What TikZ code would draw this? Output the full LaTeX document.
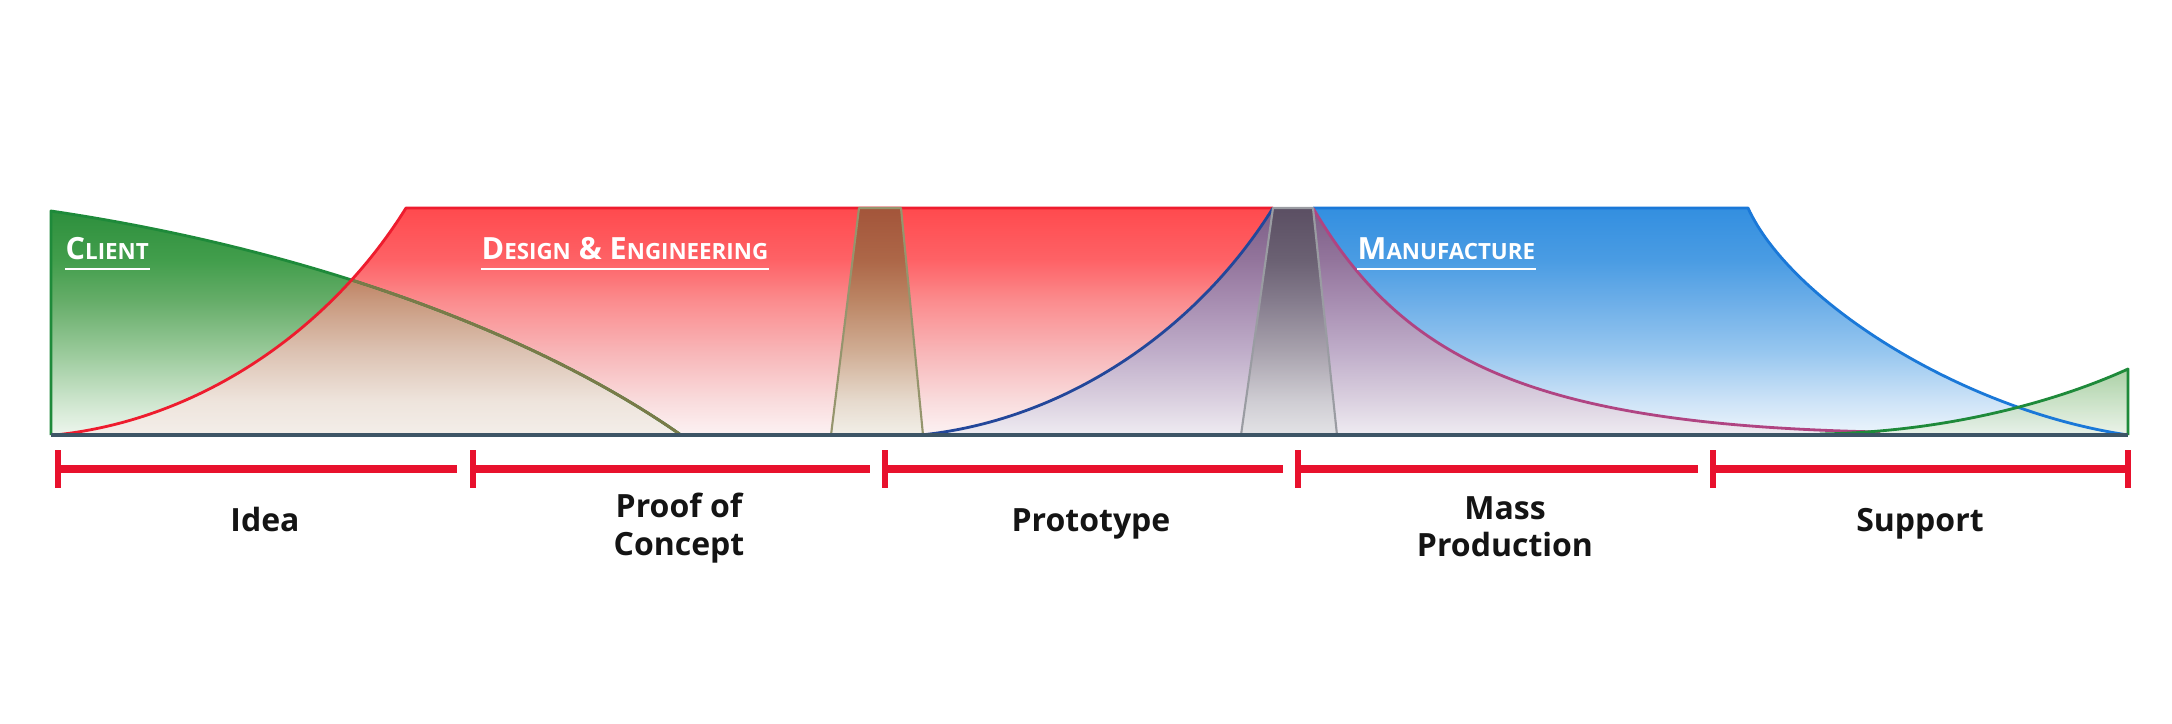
\documentclass[tikz,border=0pt]{standalone}
\usepackage{fontspec}
\setmainfont{Open Sans}
% line colours
\definecolor{greenline}{HTML}{1E8A3A}
\definecolor{redline}{HTML}{EE1C2E}
\definecolor{oliveline}{HTML}{7A7A48}
\definecolor{grayline}{HTML}{9A9CA2}
\definecolor{blueline}{HTML}{1A78D8}
\definecolor{darkblue}{HTML}{23479A}
\definecolor{magline}{HTML}{B04482}
\definecolor{baseC}{HTML}{3D5566}
\definecolor{barred}{HTML}{E8112D}
% red shading stops
\definecolor{rA}{HTML}{FCF2F3}\definecolor{rB}{HTML}{F9DCDD}\definecolor{rC}{HTML}{F8B5B7}
\definecolor{rD}{HTML}{FB8C8E}\definecolor{rE}{HTML}{FE6266}\definecolor{rF}{HTML}{FF4A4E}
% green
\definecolor{gA}{HTML}{EEF6EE}\definecolor{gB}{HTML}{CDE5CD}\definecolor{gC}{HTML}{98C999}
\definecolor{gD}{HTML}{66AD69}\definecolor{gE}{HTML}{429E4C}\definecolor{gF}{HTML}{2C8E3C}
% brown overlap
\definecolor{bA}{HTML}{F3EEE9}\definecolor{bB}{HTML}{EEE4DC}\definecolor{bC}{HTML}{DCC2B2}
\definecolor{bD}{HTML}{C9997E}\definecolor{bE}{HTML}{B5704F}\definecolor{bF}{HTML}{A04E30}
% purple
\definecolor{pA}{HTML}{EFECF2}\definecolor{pB}{HTML}{DBD1E0}\definecolor{pC}{HTML}{BFADC9}
\definecolor{pD}{HTML}{A78DB1}\definecolor{pE}{HTML}{93759C}\definecolor{pF}{HTML}{7C5E86}
% blue
\definecolor{uA}{HTML}{EDF5FC}\definecolor{uB}{HTML}{CDE3F7}\definecolor{uC}{HTML}{96C6EF}
\definecolor{uD}{HTML}{6CAEE8}\definecolor{uE}{HTML}{4A9CE3}\definecolor{uF}{HTML}{338FE0}
% brown trapezoid
\definecolor{tA}{HTML}{F2EFE8}\definecolor{tB}{HTML}{E6DACD}\definecolor{tC}{HTML}{D0AD94}
\definecolor{tD}{HTML}{BC8665}\definecolor{tE}{HTML}{AD6748}\definecolor{tF}{HTML}{A3553A}
% gray trapezoid
\definecolor{kA}{HTML}{E3E3E6}\definecolor{kB}{HTML}{CFCDD3}\definecolor{kC}{HTML}{A8A2AD}
\definecolor{kD}{HTML}{857C8D}\definecolor{kE}{HTML}{6B6173}\definecolor{kF}{HTML}{5B4F63}
% support
\definecolor{sA}{HTML}{E9F2E7}\definecolor{sF}{HTML}{9DCA97}
% TikZ fits the path's box onto the 25bp..75bp band of a shading
\newcommand{\mkshade}[2]{\pgfdeclareverticalshading{#1}{100bp}{%
  color(0bp)=(#2A); color(25bp)=(#2A); color(32.5bp)=(#2B); color(43.5bp)=(#2C);
  color(54.5bp)=(#2D); color(63.5bp)=(#2E); color(75bp)=(#2F); color(100bp)=(#2F)}}
\mkshade{redsh}{r}
\mkshade{greensh}{g}
\mkshade{brownsh}{b}
\mkshade{purpsh}{p}
\mkshade{bluesh}{u}
\mkshade{trapsh}{t}
\mkshade{graysh}{k}
\pgfdeclareverticalshading{supsh}{100bp}{color(0bp)=(sA); color(25bp)=(sA); color(75bp)=(sF); color(100bp)=(sF)}
\newcommand{\hbig}[1]{{\fontsize{8.7}{11}\selectfont #1}}
\newcommand{\hsm}[1]{{\fontsize{6.35}{8}\selectfont #1}}
\begin{document}
\begin{tikzpicture}[x=0.01cm,y=-0.01cm,
  edge/.style={line width=0.8pt, line join=round},
  trapedge/.style={line width=0.6pt, line join=round},
  bar/.style={line width=2pt, draw=barred},
  tickmark/.style={line width=1.5pt, draw=barred},
  hdr/.style={text=white, font=\bfseries\fontsize{8.7}{11}\selectfont, anchor=base west, inner sep=0pt},
  uline/.style={draw=white, line width=0.6pt},
  lbl/.style={font=\bfseries\fontsize{9.1}{10.6}\selectfont, align=center, text=black!92}]
\useasboundingbox[fill=white] (0,0) rectangle (2172,724);
\def\pGreen{(51,435) -- (51,211) .. controls (301,248) and (531,330) .. (681,435) -- cycle}
\def\pRed{(55,435) .. controls (200,420) and (330,330) .. (406,208) -- (1273,208) .. controls (1197,330) and (1066,420) .. (921,435) -- cycle}
\def\pBlue{(1300,435) -- (1300,208) -- (1748,208) .. controls (1790,300) and (1960,410) .. (2128,435) -- cycle}
\def\pPurple{(921,435) .. controls (1066,420) and (1197,330) .. (1273,208) -- (1313,208) .. controls (1405,365) and (1540,425) .. (1880,432) -- (1880,435) -- cycle}
\def\pTrapA{(831,435) -- (859,208) -- (901,208) -- (923,435) -- cycle}
\def\pTrapB{(1241,435) -- (1273,208) -- (1313,208) -- (1337,435) -- cycle}
\def\pSupport{(1820,434) .. controls (1950,432) and (2060,400) .. (2128,369) -- (2128,435) -- (1820,435) -- cycle}
% manufacture (blue)
\begin{scope}\clip \pBlue;
  \shade[shading=bluesh] (1290,208) rectangle (2140,435);
\end{scope}
% design (red)
\begin{scope}\clip \pRed;
  \shade[shading=redsh] (40,208) rectangle (1290,435);
\end{scope}
% client (green)
\begin{scope}\clip \pGreen;
  \shade[shading=greensh] (40,208) rectangle (700,435);
\end{scope}
% overlap client / design
\begin{scope}\clip \pRed; \clip \pGreen;
  \shade[shading=brownsh] (40,208) rectangle (700,435);
\end{scope}
% transition prototype -> manufacture (purple)
\begin{scope}\clip \pPurple;
  \shade[shading=purpsh] (910,208) rectangle (1890,435);
\end{scope}
% support (green, right)
\begin{scope}\clip \pSupport;
  \shade[shading=supsh, fill opacity=0.85] (1810,369) rectangle (2140,435);
\end{scope}
% outlines
\draw[edge, draw=greenline] (51,435) -- (51,211) .. controls (301,248) and (531,330) .. (681,435);
\begin{scope}\clip \pRed;
  \draw[edge, draw=oliveline] (51,211) .. controls (301,248) and (531,330) .. (681,435);
\end{scope}
\draw[edge, draw=redline] (55,435) .. controls (200,420) and (330,330) .. (406,208) -- (1273,208);
\draw[edge, draw=blueline] (1313,208) -- (1748,208) .. controls (1790,300) and (1960,410) .. (2128,435);
\draw[edge, draw=darkblue] (921,435) .. controls (1066,420) and (1197,330) .. (1273,208);
\draw[edge, draw=magline] (1313,208) .. controls (1405,365) and (1540,425) .. (1880,432);
\draw[edge, draw=greenline] (1820,434) .. controls (1950,432) and (2060,400) .. (2128,369) -- (2128,435);
% hand-over trapezoids
\begin{scope}\clip \pTrapA;
  \shade[shading=trapsh] (820,208) rectangle (930,435);
\end{scope}
\draw[trapedge, draw=oliveline!80] \pTrapA;
\begin{scope}\clip \pTrapB;
  \shade[shading=graysh] (1230,208) rectangle (1345,435);
\end{scope}
\draw[trapedge, draw=grayline] \pTrapB;
% baseline
\draw[line width=1pt, draw=baseC] (51,435) -- (2128,435);
% headings
\node[hdr] (client) at (65,259) {\hbig{C}\hsm{LIENT}};
\node[hdr] (design) at (481,259) {\hbig{D}\hsm{ESIGN} \hbig{\&} \hbig{E}\hsm{NGINEERING}};
\node[hdr] (manuf) at (1357,259) {\hbig{M}\hsm{ANUFACTURE}};
\foreach \n in {client,design,manuf}
  \draw[uline] ([yshift=-2.8pt]\n.base west) -- ([yshift=-2.8pt]\n.base east);
% phase bars
\foreach \a/\b in {58/457, 473/870, 885/1283, 1298/1698, 1713/2128} {
  \draw[bar] (\a,469) -- (\b,469);
  \draw[tickmark] (\a,450) -- (\a,488);
}
\draw[tickmark] (2128,450) -- (2128,488);
% phase labels
\node[lbl, anchor=base] (idea) at (265,531) {Idea};
\node[lbl] (poc) at (679,528) {Proof of\\Concept};
\node[lbl, anchor=base] (proto) at (1091,531) {Prototype};
\node[lbl] (mass) at (1505,527) {Mass\\Production};
\node[lbl, anchor=base] (supp) at (1920,531) {Support};
\end{tikzpicture}
\end{document}
